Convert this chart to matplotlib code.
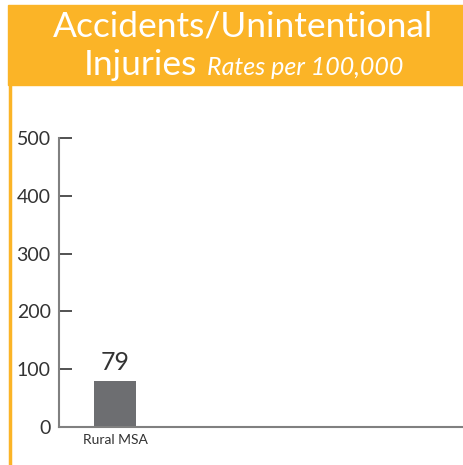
import matplotlib
matplotlib.use("Agg")
import matplotlib.pyplot as plt
from matplotlib.patches import Rectangle
from matplotlib.lines import Line2D

categories = ["Rural MSA"]
values = [79]
yticks = [0, 100, 200, 300, 400, 500]
title_line1 = "Accidents/Unintentional"
title_line2 = "Injuries"
subtitle = "Rates per 100,000"

ORANGE = "#FBB427"
BAR = "#6D6E71"
AXIS = "#808080"
TEXT = "#333333"

plt.rcParams['font.family'] = ['Lato', 'DejaVu Sans']

W, H = 464, 465
fig = plt.figure(figsize=(W / 100, H / 100), dpi=100)

# header box
fig.patches.append(Rectangle((8 / W, 1 - 85 / H), 1 - 8 / W, 80 / H,
                             transform=fig.transFigure, color=ORANGE, zorder=0))
# left orange line
fig.lines.append(Line2D([10 / W, 10 / W], [0, 1 - 85 / H], transform=fig.transFigure,
                        color=ORANGE, lw=2.5))

fig.text(243.5 / W, 1 - 36 / H, title_line1, color="white", fontsize=25.5,
         fontweight="normal", ha="center", va="baseline")
fig.text(84 / W, 1 - 75 / H, title_line2, color="white", fontsize=25.5,
         fontweight="normal", ha="left", va="baseline")
fig.text(207 / W, 1 - 75 / H, subtitle, color="white", fontsize=18,
         fontstyle="italic", fontweight="normal", ha="left", va="baseline")

ax = fig.add_axes([59 / W, 1 - 427 / H, (W - 59) / W, (427 - 138) / H])
x = list(range(len(categories)))
bars = ax.bar(x, values, width=0.8, color=BAR, zorder=2)
for xi, v in zip(x, values):
    ax.text(xi, v + 12, f"{v}", ha="center", va="bottom", fontsize=18, color=TEXT)

ax.set_ylim(0, 500)
ax.set_xlim(-1.067, 6.65)
ax.set_yticks(yticks)
ax.set_yticklabels([str(t) for t in yticks], fontsize=14, color=TEXT)
ax.set_xticks(x)
ax.set_xticklabels(categories, fontsize=10, color=TEXT)
ax.tick_params(axis='y', direction='in', length=9, width=1.2, color="#333333", pad=6)
ax.tick_params(axis='x', length=0, pad=5)
for s in ["top", "right"]:
    ax.spines[s].set_visible(False)
for s in ["left", "bottom"]:
    ax.spines[s].set_color(AXIS)
    ax.spines[s].set_linewidth(1.5)
ax.set_facecolor("white")

fig.savefig("out.png", dpi=100)
